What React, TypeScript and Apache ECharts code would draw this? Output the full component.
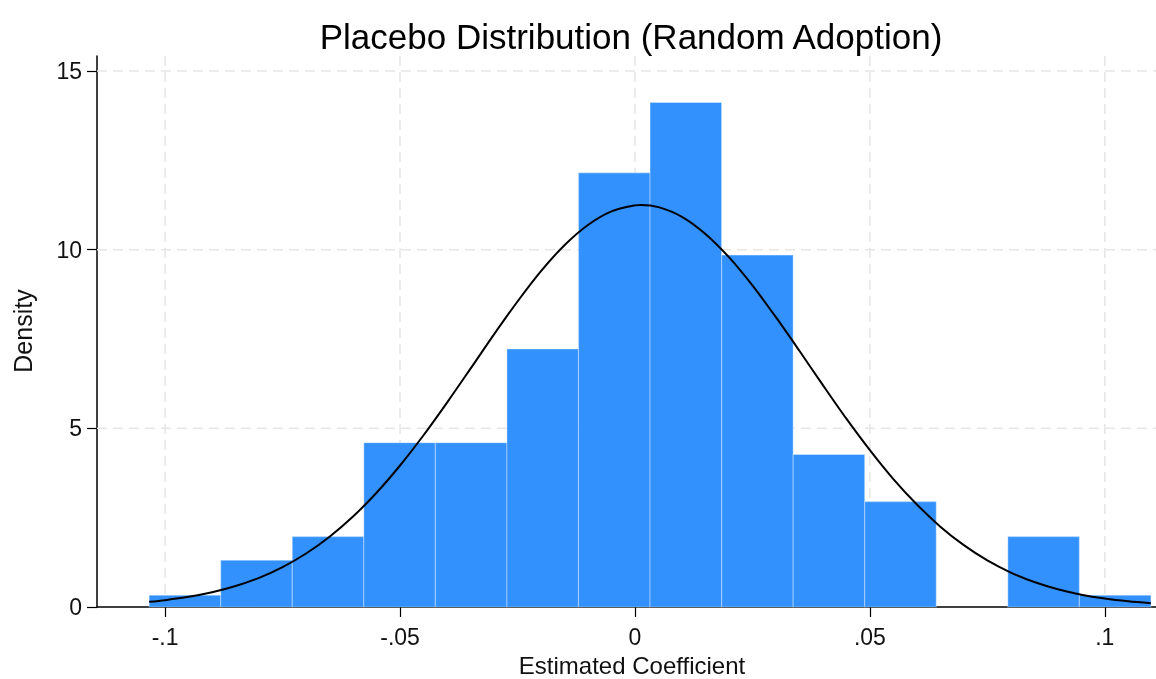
import React, { useEffect, useRef } from "react";
import * as echarts from "echarts";

// Histogram (density)
const binStart = -0.1034;
const binWidth = 0.01523;
const density = [0.33, 1.31, 1.97, 4.6, 4.6, 7.22, 12.15, 14.12, 9.85, 4.27, 2.95, 0, 1.97, 0.33];

// Normal density curve
const curveX = [
  -0.1034, -0.1, -0.095, -0.09, -0.085, -0.08, -0.075, -0.07, -0.065, -0.06, -0.055, -0.05, -0.045,
  -0.04, -0.035, -0.03, -0.025, -0.02, -0.015, -0.01, -0.005, 0, 0.0013, 0.005, 0.01, 0.015, 0.02,
  0.025, 0.03, 0.035, 0.04, 0.045, 0.05, 0.055, 0.06, 0.065, 0.07, 0.075, 0.08, 0.085, 0.09, 0.095,
  0.1, 0.105, 0.1098,
];
const curveY = [
  0.145, 0.192, 0.284, 0.412, 0.586, 0.817, 1.117, 1.497, 1.967, 2.532, 3.198, 3.96, 4.806,
  5.72, 6.67, 7.63, 8.55, 9.4, 10.125, 10.69, 11.07, 11.24, 11.25, 11.19, 10.92, 10.44, 9.79,
  9.0, 8.11, 7.17, 6.21, 5.27, 4.39, 3.58, 2.87, 2.249, 1.73, 1.304, 0.964, 0.698, 0.496, 0.345,
  0.236, 0.158, 0.105,
];

const xTicks = [-0.1, -0.05, 0, 0.05, 0.1];
const xTickLabels = ["-.1", "-.05", "0", ".05", ".1"];
const yTicks = [0, 5, 10, 15];

const titleText = "Placebo Distribution (Random Adoption)";
const xTitle = "Estimated Coefficient";
const yTitle = "Density";

const FONT = "'Liberation Sans', Arial, sans-serif";

export default function App() {
  const ref = useRef<HTMLDivElement>(null);
  useEffect(() => {
    if (!ref.current) return;
    const chart = echarts.init(ref.current, null, { renderer: "svg" });
    const bins = density.map((d, i) => [binStart + i * binWidth, binStart + (i + 1) * binWidth, d]);
    const gridData = [
      ...xTicks.map((t) => [t, 0]),
      ...yTicks.filter((t) => t > 0).map((t) => [t, 1]),
    ];
    const gridStyle = { stroke: "#e6e6e6", lineWidth: 1.5, lineDash: [10, 6] };
    chart.setOption({
      animation: false,
      textStyle: { fontFamily: FONT },
      grid: { left: 97, right: 0, top: 56, bottom: 72, containLabel: false },
      xAxis: {
        type: "value",
        min: -0.1145,
        max: 0.1109,
        axisLine: { show: true, onZero: false, lineStyle: { color: "#000", width: 1.5 } },
        axisTick: { show: true, length: 10, lineStyle: { color: "#000", width: 1.2 }, customValues: xTicks },
        axisLabel: {
          show: true,
          customValues: xTicks,
          margin: 18,
          fontSize: 23,
          color: "#111",
          fontFamily: FONT,
          formatter: (v: number) => {
            const i = xTicks.findIndex((t) => Math.abs(t - v) < 1e-9);
            return i >= 0 ? xTickLabels[i] : "";
          },
        },
        splitLine: { show: false },
      },
      yAxis: {
        type: "value",
        min: 0,
        max: 15.42,
        axisLine: { show: true, onZero: false, lineStyle: { color: "#000", width: 1.5 } },
        axisTick: { show: true, length: 10, lineStyle: { color: "#000", width: 1.2 }, customValues: yTicks },
        axisLabel: {
          show: true,
          customValues: yTicks,
          margin: 15,
          fontSize: 23,
          color: "#111",
          fontFamily: FONT,
        },
        splitLine: { show: false },
      },
      graphic: [
        {
          type: "text",
          x: 631,
          y: 36,
          style: { text: titleText, font: `35px ${FONT}`, fill: "#000", textAlign: "center", textVerticalAlign: "middle" },
        },
        {
          type: "text",
          x: 632,
          y: 665,
          style: { text: xTitle, font: `24px ${FONT}`, fill: "#111", textAlign: "center", textVerticalAlign: "middle" },
        },
        {
          type: "text",
          x: 23,
          y: 331,
          rotation: Math.PI / 2,
          style: { text: yTitle, font: `25px ${FONT}`, fill: "#111", textAlign: "center", textVerticalAlign: "middle" },
        },
      ],
      series: [
        {
          type: "custom",
          z: 1,
          silent: true,
          data: gridData,
          renderItem: (params: any, api: any) => {
            const v = api.value(0);
            const kind = api.value(1);
            const cs = params.coordSys;
            if (kind === 0) {
              const p = api.coord([v, 0]);
              return { type: "line", shape: { x1: p[0], y1: cs.y, x2: p[0], y2: cs.y + cs.height }, style: gridStyle };
            }
            const p = api.coord([0, v]);
            return { type: "line", shape: { x1: cs.x, y1: p[1], x2: cs.x + cs.width, y2: p[1] }, style: gridStyle };
          },
        },
        {
          type: "custom",
          z: 2,
          data: bins,
          encode: { x: [0, 1], y: 2 },
          renderItem: (params: any, api: any) => {
            const x0 = api.value(0);
            const x1 = api.value(1);
            const h = api.value(2);
            if (!h) return null;
            const p0 = api.coord([x0, h]);
            const p1 = api.coord([x1, 0]);
            return {
              type: "rect",
              shape: { x: p0[0], y: p0[1], width: p1[0] - p0[0], height: p1[1] - p0[1] },
              style: { fill: "#3391fe", stroke: "rgba(255,255,255,0.3)", lineWidth: 1.2 },
            };
          },
        },
        {
          type: "line",
          z: 3,
          data: curveX.map((x, i) => [x, curveY[i]]),
          smooth: 0.3,
          showSymbol: false,
          symbol: "none",
          lineStyle: { color: "#000", width: 2 },
        },
      ],
    });
    return () => chart.dispose();
  }, []);
  return <div ref={ref} style={{ position: "fixed", left: 0, top: 0, width: 1156, height: 679 }} />;
}
